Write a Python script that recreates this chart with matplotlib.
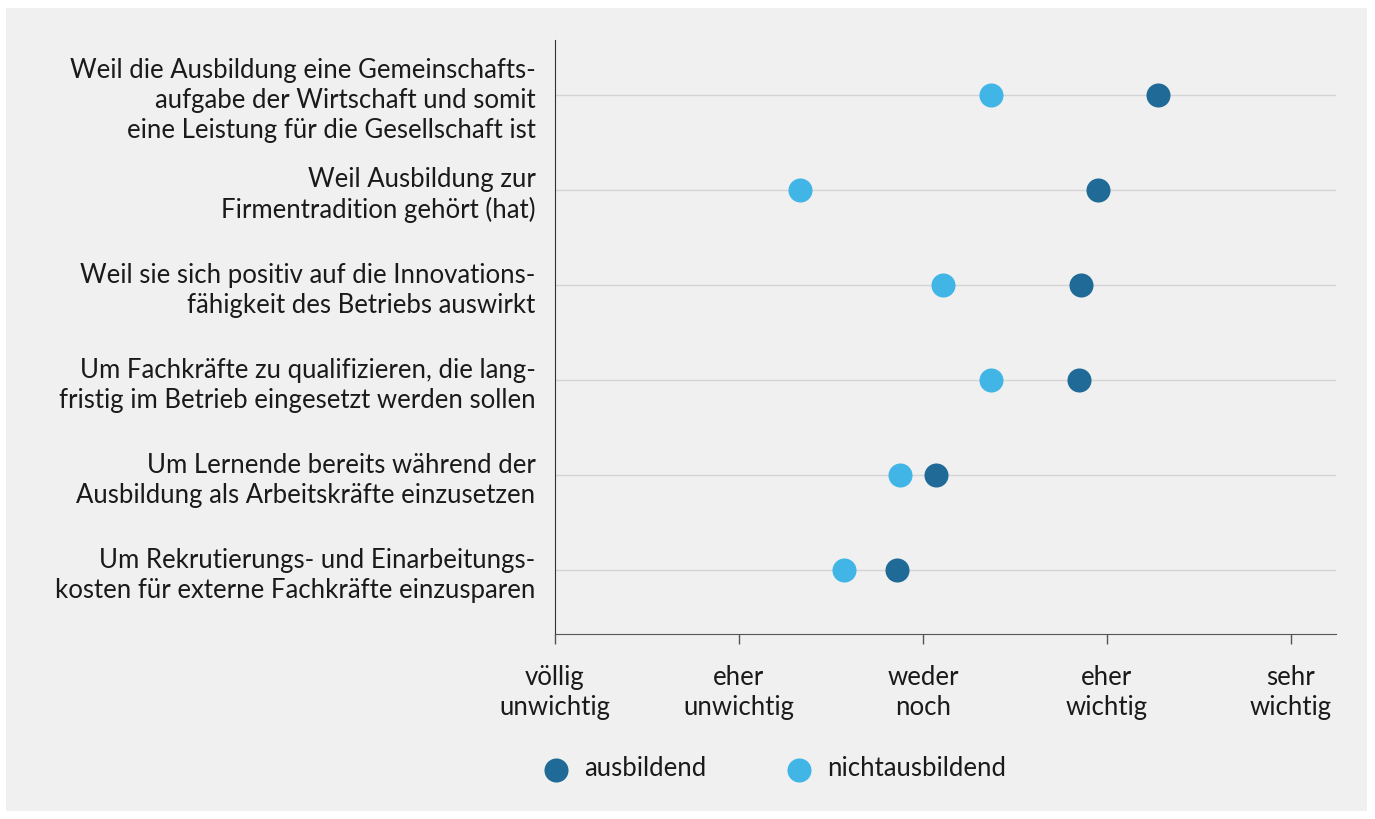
import matplotlib
matplotlib.use("Agg")
import matplotlib.pyplot as plt
from matplotlib.patches import Rectangle

# Data (1 = völlig unwichtig ... 5 = sehr wichtig)
reasons = [
    "Weil die Ausbildung eine Gemeinschafts-\naufgabe der Wirtschaft und somit\neine Leistung für die Gesellschaft ist",
    "Weil Ausbildung zur\nFirmentradition gehört (hat)",
    "Weil sie sich positiv auf die Innovations-\nfähigkeit des Betriebs auswirkt",
    "Um Fachkräfte zu qualifizieren, die lang-\nfristig im Betrieb eingesetzt werden sollen",
    "Um Lernende bereits während der\nAusbildung als Arbeitskräfte einzusetzen",
    "Um Rekrutierungs- und Einarbeitungs-\nkosten für externe Fachkräfte einzusparen",
]
ausbildend = [4.28, 3.95, 3.86, 3.85, 3.07, 2.86]
nichtausbildend = [3.37, 2.33, 3.11, 3.37, 2.875, 2.57]
scale_labels = ["völlig\nunwichtig", "eher\nunwichtig", "weder\nnoch", "eher\nwichtig", "sehr\nwichtig"]

plt.rcParams['font.family'] = ['Lato', 'DejaVu Sans']
dark = "#1f6a96"
light = "#41b6e6"
bg = "#f0f0f0"
txt = "#1a1a1a"
fs = 18.5

fig = plt.figure(figsize=(13.75, 8.19), dpi=100, facecolor="white")
fig.patches.append(Rectangle((6 / 1375, 8 / 819), 1361 / 1375, 803 / 819,
                             transform=fig.transFigure, facecolor=bg,
                             edgecolor="none", zorder=-10))

ax = fig.add_axes([555 / 1375, 1 - 634 / 819, 781 / 1375, 594 / 819])
ax.set_facecolor(bg)

ypos = list(range(len(reasons)))
for y in ypos:
    ax.axhline(y, color="#d4d4d4", lw=1, zorder=1)

ax.scatter(nichtausbildend, ypos, s=300, color=light, zorder=3, label="nichtausbildend", linewidths=0)
ax.scatter(ausbildend, ypos, s=300, color=dark, zorder=3, label="ausbildend", linewidths=0)

ax.set_xlim(1, 5.245)
ax.set_ylim(len(reasons) - 1 + 0.67, -0.58)
ax.set_xticks([1, 2, 3, 4, 5])
ax.set_xticklabels(scale_labels, fontsize=fs, color=txt, linespacing=1.25)
ax.set_yticks(ypos)
ax.set_yticklabels(reasons, fontsize=fs, color=txt, linespacing=1.25)
ax.tick_params(axis="y", length=0, pad=14)
ax.tick_params(axis="x", length=7, width=1, color="#555555", pad=15)

for s in ["top", "right"]:
    ax.spines[s].set_visible(False)
ax.spines["left"].set_color("#333333")
ax.spines["bottom"].set_color("#555555")

h, l = ax.get_legend_handles_labels()
fig.legend(h[::-1], l[::-1], loc="center left", bbox_to_anchor=(517 / 1375, 1 - 769 / 819),
           ncol=2, frameon=False, fontsize=fs, markerscale=1.0, handletextpad=0.5,
           handlelength=1.2, columnspacing=3.0, labelcolor=txt)

fig.savefig("out.png", dpi=100, facecolor="white")
